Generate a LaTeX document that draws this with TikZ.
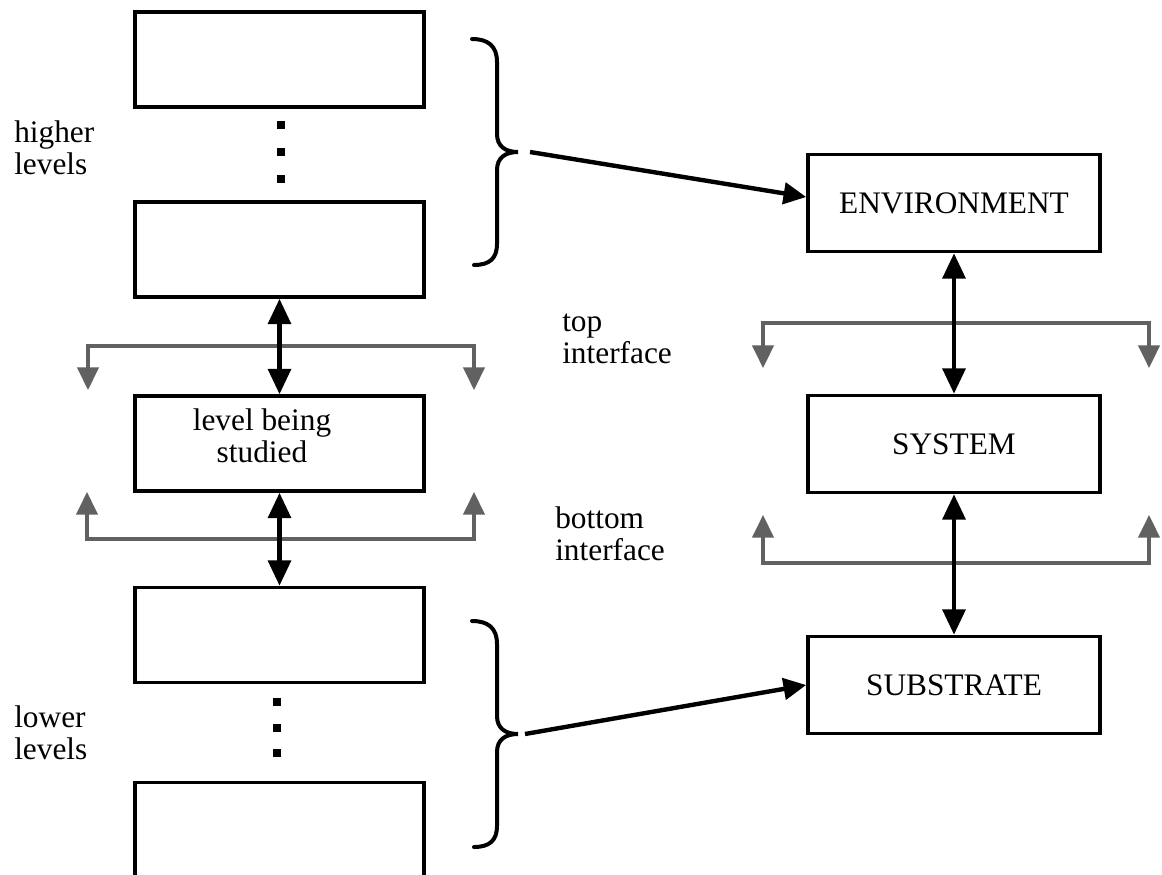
\documentclass[tikz,border=0pt]{standalone}
\usepackage{fontspec}
\setmainfont{Liberation Serif}
\usetikzlibrary{arrows.meta,calc}
\newcommand{\diagfont}{\fontsize{23.5}{24}\selectfont}
\begin{document}
\begin{tikzpicture}[x=0.75pt,y=-0.75pt,
  lvlbox/.style={draw, line width=2.7pt, minimum width=216.75pt, minimum height=71.25pt, inner sep=0pt, font=\diagfont},
  sidebox/.style={draw, line width=2.7pt, minimum width=219pt, minimum height=72.75pt, inner sep=0pt, font=\diagfont},
  lbl/.style={inner sep=0pt, font=\diagfont},
  dbl/.style={line width=3.2pt, {Triangle[length=19pt,width=17pt]}-{Triangle[length=19pt,width=17pt]}},
  link/.style={line width=3.3pt, -{Triangle[length=17pt,width=16pt]}},
  iface/.style={line width=2.6pt, black!62, {Triangle[length=17pt,width=16pt]}-{Triangle[length=17pt,width=16pt]}},
  bracestroke/.style={line width=3pt, line cap=round}]
\useasboundingbox (0,0) rectangle (1162,874);
\clip (0,0) rectangle (1162,874);

% level stack
\node[lvlbox] (b1) at (279.5,59.5) {};
\node[lvlbox] (b2) at (279.5,249.5) {};
\node[lvlbox] (b3) at (279.5,443.5) {};
\node[lvlbox] (b4) at (279.5,635) {};
\node[lvlbox] (b5) at (279.5,830) {};
\node[lbl, align=center] (studied) at (262,436) {level being\\studied};

% ellipsis squares
\foreach \yy in {125,152,179} \fill (281,\yy) ++(-4,-4) rectangle ++(8,8);
\foreach \yy in {702,728,753} \fill (277,\yy) ++(-4,-4) rectangle ++(8,8);

% system view
\node[sidebox] (env) at (954,203) {ENVIRONMENT};
\node[sidebox] (sys) at (954,444) {SYSTEM};
\node[sidebox] (sub) at (954,685) {SUBSTRATE};

% interfaces
\draw[iface] (88,390) -- (88,346) -- (474,346) -- (474,390);
\draw[iface] (87,492) -- (87,539) -- (474,539) -- (474,492);
\draw[iface] (763,368) -- (763,323) -- (1149,323) -- (1149,368);
\draw[iface] (763,515) -- (763,563) -- (1149,563) -- (1149,515);

% level links
\draw[dbl] (b2) -- (b3);
\draw[dbl] (b3) -- (b4);
\draw[dbl] (env) -- (sys);
\draw[dbl] (sys) -- (sub);

% braces
\draw[bracestroke] (472,39) .. controls (488,39) and (497,46) .. (497,62) -- (497,134)
  .. controls (497,146) and (505,152) .. (518,152)
  .. controls (505,152) and (497,158) .. (497,170) -- (497,244)
  .. controls (497,258) and (490,265) .. (474,265);
\draw[bracestroke] (472,621) .. controls (488,621) and (497,628) .. (497,644) -- (497,716)
  .. controls (497,728) and (505,734) .. (518,734)
  .. controls (505,734) and (497,740) .. (497,752) -- (497,826)
  .. controls (497,840) and (490,847) .. (474,847);
\coordinate (hb) at (530,152);
\coordinate (lb) at (525,734);
\draw[link] (hb) -- ([yshift=4.5pt]env.west);
\draw[link] (lb) -- (sub.west);

% labels
\node[lbl, anchor=west, align=left] (hl) at (14,148) {higher\\levels};
\node[lbl, anchor=west, align=left] (ll) at (14,733) {lower\\levels};
\node[lbl, anchor=west, align=left] (ti) at (562,339) {top\\interface};
\node[lbl, anchor=west, align=left] (bi) at (555,534) {bottom\\interface};
\end{tikzpicture}
\end{document}
